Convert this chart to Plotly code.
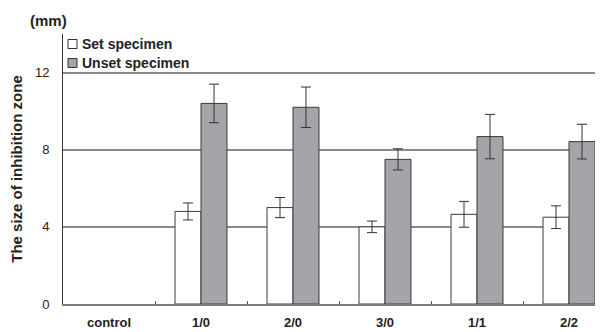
import plotly.graph_objects as go

categories = ["control", "1/0", "2/0", "3/0", "1/1", "2/2"]
set_values = [None, 4.8, 5.0, 4.0, 4.65, 4.5]
set_errors = [None, 0.44, 0.52, 0.3, 0.67, 0.59]
unset_values = [None, 10.4, 10.2, 7.5, 8.68, 8.42]
unset_errors = [None, 1.0, 1.05, 0.55, 1.15, 0.9]
series_names = ["Set specimen", "Unset specimen"]
y_ticks = [0, 4, 8, 12]

FONT = "Liberation Sans, Arial, sans-serif"
GRAY = "#a5a5a9"

# the page has an 8px body margin; figure is placed at (8, 8)
OFF = 8
W, H = 603 - OFF, 332 - OFF
L, T, B = 63 - OFF, 34 - OFF, 28
PW, PH = W - L, H - T - B  # 540 x 270

def px(x):  # page x -> paper
    return (x - 63) / PW

def py(y):  # page y -> paper
    return (304 - y) / PH

fig = go.Figure()
fig.add_trace(go.Bar(
    x=categories, y=set_values, name=series_names[0],
    marker=dict(color="white", line=dict(color="#3a3a3a", width=1)),
    error_y=dict(type="data", array=set_errors, visible=True,
                 color="#333333", thickness=1, width=5),
    showlegend=False,
))
fig.add_trace(go.Bar(
    x=categories, y=unset_values, name=series_names[1],
    marker=dict(color=GRAY, line=dict(color="#3a3a3a", width=1)),
    error_y=dict(type="data", array=unset_errors, visible=True,
                 color="#333333", thickness=1, width=5),
    showlegend=False,
))

# white patch hiding the 12 gridline behind the legend
fig.add_shape(type="rect", xref="paper", yref="y", x0=0.003, x1=px(200),
              y0=11.0, y1=13.0, fillcolor="white", line=dict(width=0),
              layer="between")

# manual legend
leg_y = [44, 63]
leg_fill = ["white", GRAY]
for name, yy, fc in zip(series_names, leg_y, leg_fill):
    fig.add_shape(type="rect", xref="paper", yref="paper",
                  x0=px(68), x1=px(77), y0=py(yy + 4.5), y1=py(yy - 4.5),
                  fillcolor=fc, line=dict(color="#333333", width=1))
    fig.add_annotation(text="<b>" + name + "</b>", xref="paper", yref="paper",
                       x=px(80), y=py(yy), xanchor="left", yanchor="middle",
                       showarrow=False,
                       font=dict(family=FONT, size=14, color="#222222"))

fig.add_annotation(text="<b>(mm)</b>", xref="paper", yref="paper",
                   x=px(48), y=py(20), xanchor="center", yanchor="middle",
                   showarrow=False,
                   font=dict(family=FONT, size=15, color="#222222"))

fig.update_layout(
    width=W, height=H,
    margin=dict(l=L, r=0, t=T, b=B, autoexpand=False),
    paper_bgcolor="white", plot_bgcolor="white",
    barmode="group", bargap=0.435, bargroupgap=0,
    font=dict(family=FONT, color="#222222"),
    xaxis=dict(
        automargin=False,
        range=[-0.5, -0.5 + PW / 92], showline=True, linecolor="#7a7a7a",
        linewidth=1.5, ticks="inside", tickson="boundaries", ticklen=3,
        tickcolor="#555555", showgrid=False,
        tickfont=dict(family=FONT, size=13, color="#222222"),
        ticklabelstandoff=6,
    ),
    yaxis=dict(
        automargin=False,
        range=[0, 14], tickvals=y_ticks, showline=True, linecolor="#333333",
        linewidth=1, showgrid=True, gridcolor="#8a8a8a", gridwidth=1.5,
        zeroline=False, ticks="", ticklabelstandoff=10,
        tickfont=dict(family=FONT, size=13, color="#222222"),
        title=dict(text="<b>The size of inhibition zone</b>", standoff=9,
                   font=dict(family=FONT, size=15, color="#222222")),
    ),
)
fig.update_xaxes(tickprefix="<b>", ticksuffix="</b>")
fig.update_yaxes(tickprefix="<b>", ticksuffix="</b>")

fig.write_html("out.html")
